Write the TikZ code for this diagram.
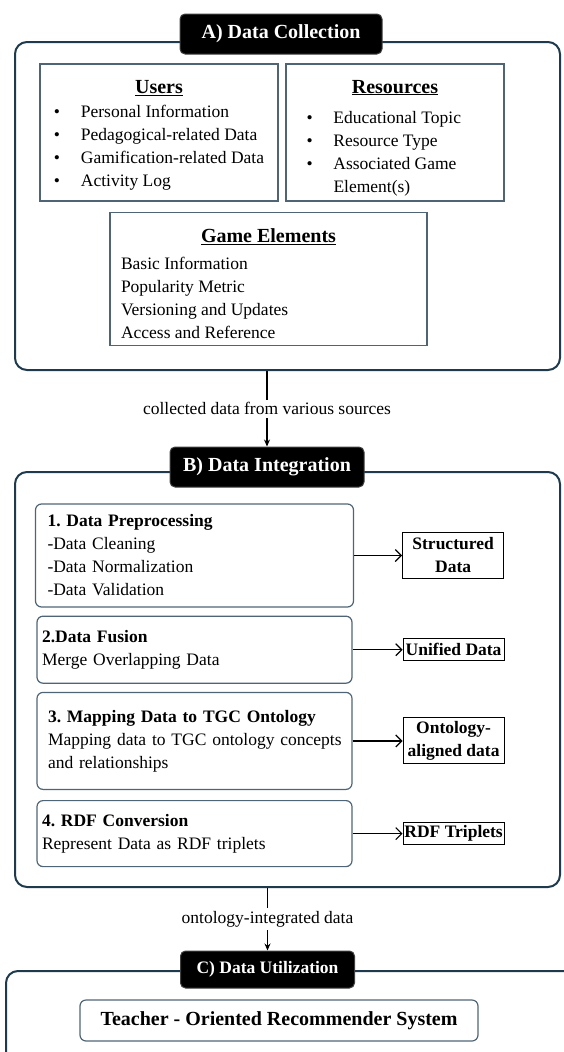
\documentclass[tikz,border=0pt]{standalone}
\usepackage{fontspec}
\setmainfont{Liberation Serif}
\usepackage{tikz}
\usetikzlibrary{positioning, arrows.meta}
\definecolor{frameblue}{HTML}{1E3A4C}
\definecolor{slate}{HTML}{4F6575}
\frenchspacing
\newcommand{\hd}[2]{\rule{0pt}{#1pt}\underline{\fontsize{20}{23}\selectfont\bfseries #2}}
\newcommand{\stephd}[1]{{\bfseries #1}}

\begin{document}
\begin{tikzpicture}[x=1pt, y=-1pt, font=\fontsize{17.5}{23}\selectfont]
    \tikzstyle{phase} = [rectangle, rounded corners=12pt, draw=frameblue, line width=2pt, inner sep=0pt]
\tikzstyle{title} = [rectangle, rounded corners=5pt, fill=black, draw=black!75, line width=1pt, text=white, minimum height=40pt, font=\fontsize{20}{23}\selectfont\bfseries]
\tikzstyle{datbox} = [rectangle, draw=slate, line width=1.2pt, inner sep=0pt]
\tikzstyle{stepbox} = [rectangle, rounded corners=6pt, draw=slate, line width=1.2pt, align=left]
\tikzstyle{outbox} = [rectangle, draw=black, line width=1pt, inner xsep=1pt, inner ysep=0pt, minimum width=101pt, align=center, font=\fontsize{17.5}{23}\selectfont\bfseries]
\tikzstyle{flow} = [line width=1.5pt, -{Stealth[length=7pt,width=6pt]}]
\tikzstyle{arrow} = [line width=1.2pt, -{Straight Barb[length=6pt,width=12pt]}]
    \useasboundingbox (0,0) rectangle (563,1052);

% A) data collection
\node (phaseA) [phase, minimum width=545pt, minimum height=328pt] at (287.5,206) {};
\node (titleA) [title, minimum width=202pt] at (281,34) {A) Data Collection};
\node (users) [datbox, minimum width=238pt, minimum height=137pt] at (159,132.5) {%
  \begin{tabular}{@{}p{27pt}@{}l@{}}
  \multicolumn{2}{@{}c@{}}{\hd{22}{Users}}\\[1pt]
  \textbullet & Personal Information\\
  \textbullet & Pedagogical-related Data\\
  \textbullet & Gamification-related Data\\
  \textbullet & Activity Log
  \end{tabular}};
\node (res) [datbox, minimum width=218pt, minimum height=137pt] at (395,132.5) {%
  \begin{tabular}{@{}p{27pt}@{}p{150pt}@{}}
  \multicolumn{2}{@{}c@{}}{\hd{27}{Resources}}\\[7pt]
  \textbullet & Educational Topic\\
  \textbullet & Resource Type\\
  \textbullet & Associated Game\\
  & Element(s)
  \end{tabular}};
\node (game) [datbox, minimum width=317pt, minimum height=132pt] at (268.5,279) {%
  \begin{tabular}{@{}p{295pt}@{}}
  \multicolumn{1}{@{}c@{}}{\hd{30}{Game Elements}}\\[4pt]
  Basic Information\\
  Popularity Metric\\
  Versioning and Updates\\
  Access and Reference
  \end{tabular}};

% B) data integration
\node (phaseB) [phase, minimum width=545pt, minimum height=415pt] at (287.5,679.5) {};
\node (titleB) [title, minimum width=194pt] at (267,467) {B) Data Integration};
\node (s1) [stepbox, minimum width=318pt, minimum height=103pt, text width=294pt, inner xsep=12pt] at (194.5,555.5)
  {\stephd{1. Data Preprocessing}\\-Data Cleaning\\-Data Normalization\\-Data Validation};
\node (s2) [stepbox, below=8pt of s1, minimum width=315pt, minimum height=67pt, text width=305pt, inner xsep=5pt]
  {\stephd{2.Data Fusion}\\Merge Overlapping Data};
\node (s3) [stepbox, below=8pt of s2, minimum width=315pt, minimum height=97pt, text width=293pt, inner xsep=11pt]
  {\stephd{3. Mapping Data to TGC Ontology}\\\mbox{Mapping data to TGC ontology concepts}\\and relationships};
\node (s4) [stepbox, below=10pt of s3, minimum width=315pt, minimum height=66pt, text width=305pt, inner xsep=5pt]
  {\stephd{4. RDF Conversion}\\Represent Data as RDF triplets};
\node (o1) [outbox, right=48pt of s1, minimum height=46pt] {Structured\\Data};
\node (o2) [outbox, right=50pt of s2, minimum height=22pt] {Unified Data};
\node (o3) [outbox, right=50pt of s3, minimum height=46pt] {Ontology-\\aligned data};
\node (o4) [outbox, right=50pt of s4, minimum height=22pt] {RDF Triplets};

\draw[arrow] (s1) -- (o1);
\draw[arrow] (s2) -- (o2);
\draw[arrow] (s3) -- (o3);
\draw[arrow] (s4) -- (o4);

% C) data utilization
\node (phaseC) [phase, anchor=north west, minimum width=600pt, minimum height=120pt] at (5,970) {};
\node (titleC) [title, minimum width=174pt, minimum height=37pt, font=\fontsize{17.5}{23}\selectfont\bfseries] at (267.5,969.5) {C) Data Utilization};
\node (rec) [stepbox, align=center, minimum width=398pt, minimum height=41pt, font=\fontsize{20}{23}\selectfont\bfseries] at (279,1020.5)
  {Teacher - Oriented Recommender System};

\draw[flow] (phaseA.south -| titleB.north) -- node[fill=white, inner xsep=2pt, inner ysep=3pt] {collected data from various sources} (titleB.north);
\draw[flow] (phaseB.south -| titleC.north) -- node[fill=white, inner xsep=2pt, inner ysep=3pt] {ontology-integrated data} (titleC.north);
  \end{tikzpicture}
\end{document}
